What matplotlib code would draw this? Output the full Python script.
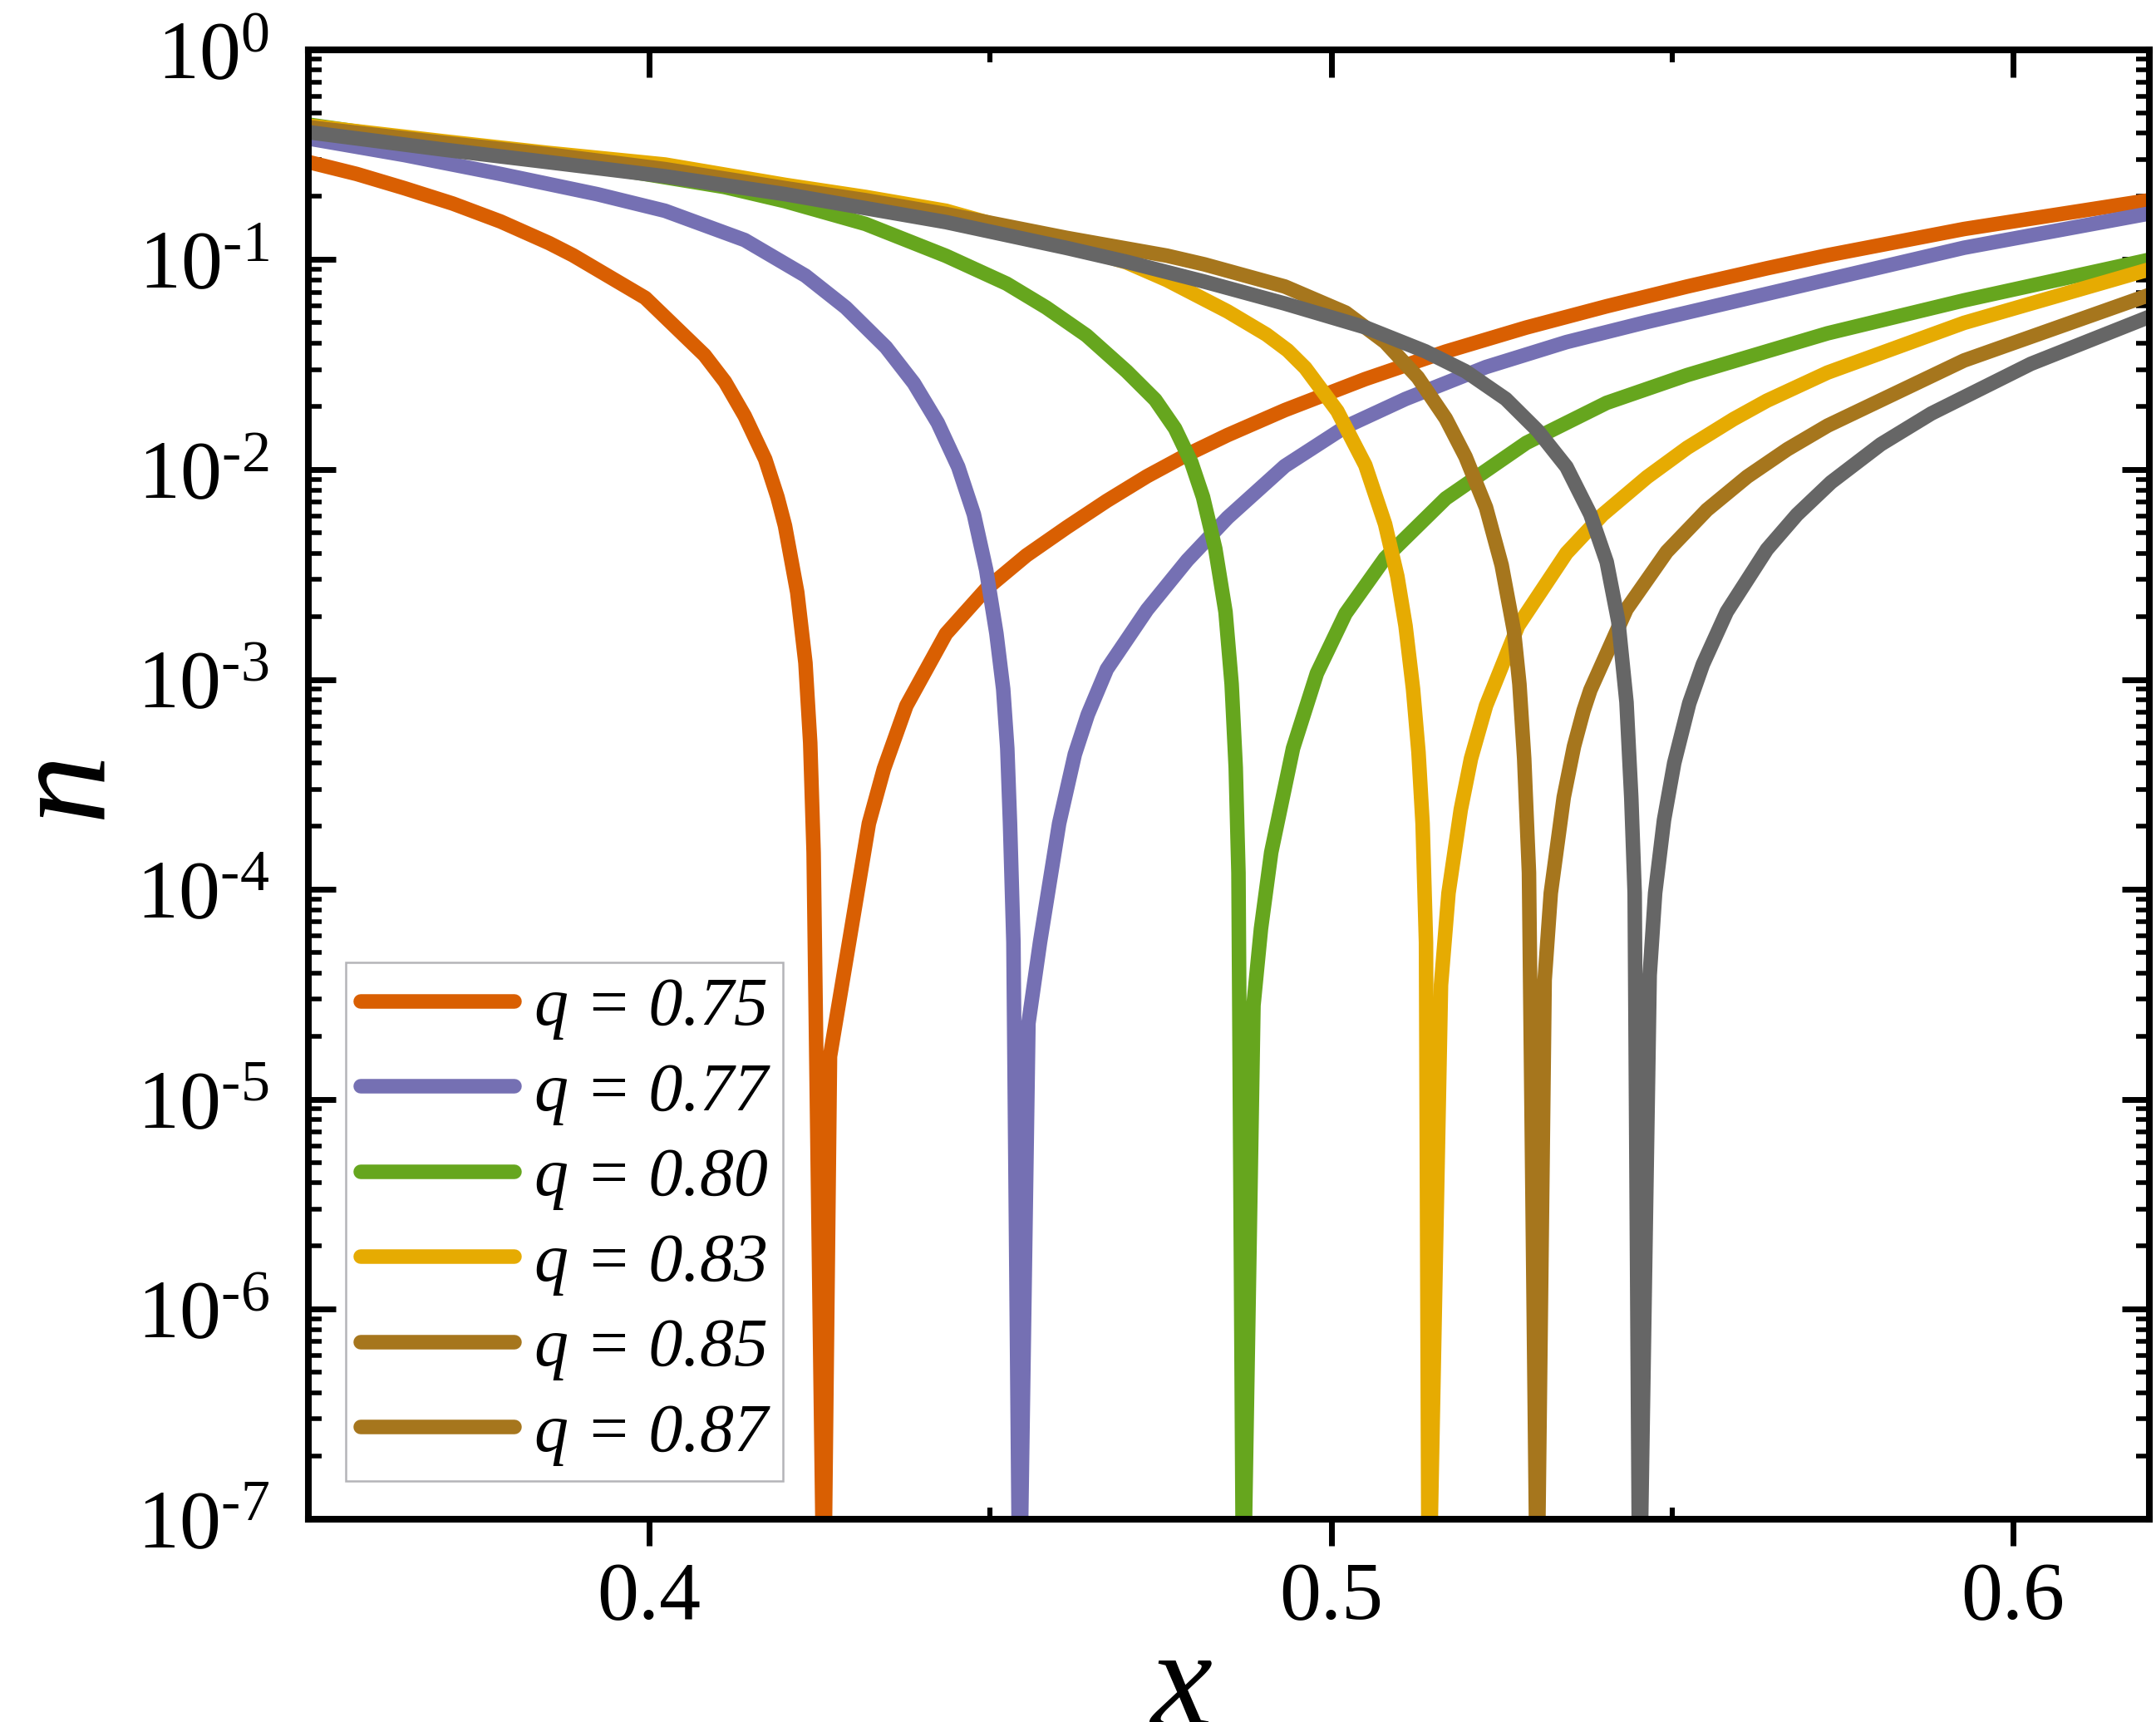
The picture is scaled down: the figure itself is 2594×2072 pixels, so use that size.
import numpy as np
import matplotlib
matplotlib.use('Agg')
import matplotlib.pyplot as plt
from matplotlib.lines import Line2D
from matplotlib.ticker import FixedLocator, LogLocator, FuncFormatter, NullFormatter

plt.rcParams['font.family'] = ['Liberation Serif', 'DejaVu Serif']
plt.rcParams['mathtext.fontset'] = 'custom'
plt.rcParams['mathtext.rm'] = 'Liberation Serif'
plt.rcParams['mathtext.it'] = 'Liberation Serif:italic'

# values: x and n for each q
x_075 = [0.3500, 0.3571, 0.3641, 0.3712, 0.3782, 0.3853, 0.3888, 0.3994, 0.4081,
         0.4111, 0.4140, 0.4170, 0.4188, 0.4199, 0.4217, 0.4229, 0.4236, 0.4241, 0.4256,
         0.4265, 0.4293, 0.4322, 0.4344, 0.4377, 0.4435, 0.4494, 0.4553, 0.4612, 0.4671,
         0.4730, 0.4789, 0.4848, 0.4932, 0.5050, 0.5168, 0.5286, 0.5404, 0.5522, 0.5639,
         0.5728, 0.5928, 0.6200]
n_075 = [0.292, 0.256, 0.219, 0.185, 0.152, 0.120, 0.105, 0.0658, 0.0351,
         0.0262, 0.0180, 0.0112, 0.0074, 0.0054, 0.0026, 0.0012, 5.0e-4, 1.5e-4, 3e-8,
         1.6e-5, 5.6e-5, 2.06e-4, 3.75e-4, 7.5e-4, 0.00165, 0.0027, 0.0039, 0.0053, 0.0071,
         0.0093, 0.0118, 0.0146, 0.0192, 0.0270, 0.0365, 0.0475, 0.0600, 0.0745, 0.0910,
         0.105, 0.140, 0.192]

x_077 = [0.3500, 0.3641, 0.3782, 0.3924, 0.4023, 0.4140, 0.4229, 0.4288, 0.4347, 0.4388,
         0.4423, 0.4453, 0.4476, 0.4494, 0.4509, 0.4519, 0.4525, 0.4529, 0.4534, 0.4543,
         0.4556, 0.4573, 0.4601, 0.4624, 0.4643, 0.4671, 0.4730, 0.4789, 0.4848, 0.4932,
         0.5021, 0.5109, 0.5227, 0.5345, 0.5463, 0.5580, 0.5728, 0.5928, 0.6200]
n_077 = [0.378, 0.315, 0.256, 0.205, 0.171, 0.124, 0.0839, 0.0592, 0.0383, 0.0258,
         0.0167, 0.0103, 0.00612, 0.00333, 0.00166, 9.0e-4, 4.7e-4, 2.06e-4, 5.6e-5, 3e-8,
         2.3e-5, 5.6e-5, 2.06e-4, 4.4e-4, 6.8e-4, 0.00112, 0.00215, 0.0037, 0.0059, 0.0104,
         0.0160, 0.0217, 0.0308, 0.0405, 0.0505, 0.0620, 0.0804, 0.114, 0.166]

x_080 = [0.3500, 0.3700, 0.3850, 0.4023, 0.4110, 0.4199, 0.4317, 0.4435, 0.4524, 0.4582,
         0.4641, 0.4700, 0.4742, 0.4771, 0.4795, 0.4812, 0.4830, 0.4845, 0.4854, 0.4860,
         0.4864, 0.4871, 0.4886, 0.4897, 0.4912, 0.4944, 0.4979, 0.5021, 0.5079, 0.5168,
         0.5286, 0.5404, 0.5522, 0.5639, 0.5728, 0.5928, 0.6200]
n_080 = [0.440, 0.355, 0.305, 0.247, 0.222, 0.190, 0.148, 0.1043, 0.0769, 0.0592,
         0.0436, 0.0294, 0.0215, 0.0157, 0.0108, 0.0074, 0.0042, 0.0021, 9.5e-4, 3.8e-4,
         1.2e-4, 3e-8, 2.8e-5, 6.5e-5, 1.5e-4, 4.7e-4, 0.00107, 0.00206, 0.00379, 0.00729,
         0.0134, 0.0208, 0.0282, 0.0366, 0.0446, 0.064, 0.100]

x_083 = [0.3500, 0.3700, 0.3850, 0.4023, 0.4200, 0.4317, 0.4435, 0.4530, 0.4612, 0.4700,
         0.4759, 0.4848, 0.4905, 0.4936, 0.4962, 0.5009, 0.5050, 0.5079, 0.5097, 0.5109,
         0.5120, 0.5128, 0.5134, 0.5139, 0.5143, 0.5161, 0.5172, 0.5190, 0.5205, 0.5227,
         0.5274, 0.5345, 0.5398, 0.5463, 0.5522, 0.5590, 0.5639, 0.5728, 0.5928, 0.6200]
n_083 = [0.435, 0.366, 0.323, 0.284, 0.227, 0.199, 0.171, 0.140, 0.118, 0.097,
         0.080, 0.0567, 0.0440, 0.0370, 0.0305, 0.0190, 0.0105, 0.0055, 0.0031, 0.0018,
         9.0e-4, 4.5e-4, 2.06e-4, 5.6e-5, 3e-8, 3.5e-5, 9.6e-5, 2.4e-4, 4.2e-4, 7.5e-4,
         0.0018, 0.0040, 0.0061, 0.0092, 0.0127, 0.0174, 0.0213, 0.0290, 0.050, 0.090]

x_085 = [0.3500, 0.3700, 0.3850, 0.4023, 0.4200, 0.4317, 0.4435, 0.4612, 0.4759, 0.4814,
         0.4932, 0.5021, 0.5079, 0.5127, 0.5168, 0.5197, 0.5227, 0.5250, 0.5268, 0.5276,
         0.5283, 0.5290, 0.5302, 0.5313, 0.5322, 0.5341, 0.5356, 0.5370, 0.5380, 0.5433,
         0.5492, 0.5551, 0.5610, 0.5669, 0.5728, 0.5928, 0.6200]
n_085 = [0.428, 0.360, 0.318, 0.270, 0.219, 0.192, 0.165, 0.127, 0.1045, 0.0950,
         0.0745, 0.0560, 0.0405, 0.0275, 0.0175, 0.0115, 0.0066, 0.0035, 0.0017, 9.5e-4,
         4.2e-4, 1.2e-4, 3e-8, 3.7e-5, 9.6e-5, 2.75e-4, 4.8e-4, 7.1e-4, 8.9e-4, 0.00216,
         0.00406, 0.00643, 0.00925, 0.0125, 0.0162, 0.0331, 0.068]

x_087 = [0.3500, 0.3700, 0.3850, 0.4023, 0.4200, 0.4317, 0.4435, 0.4612, 0.4700, 0.4814,
         0.4932, 0.5050, 0.5138, 0.5197, 0.5256, 0.5303, 0.5345, 0.5380, 0.5404, 0.5421,
         0.5433, 0.5440, 0.5445, 0.5452, 0.5467, 0.5475, 0.5488, 0.5503, 0.5525, 0.5545,
         0.5580, 0.5639, 0.5683, 0.5733, 0.5806, 0.5880, 0.6026, 0.6200]
n_087 = [0.405, 0.334, 0.292, 0.2496, 0.205, 0.176, 0.151, 0.1137, 0.0977, 0.0786,
         0.0618, 0.0476, 0.0366, 0.0294, 0.0217, 0.0153, 0.0103, 0.00612, 0.00363, 0.00189,
         7.8e-4, 2.75e-4, 9.6e-5, 3e-8, 3.9e-5, 9.6e-5, 2.14e-4, 4.0e-4, 7.7e-4, 0.00118,
         0.0021, 0.00417, 0.0061, 0.0087, 0.0132, 0.0185, 0.0319, 0.0535]

series_x = [x_075, x_077, x_080, x_083, x_085, x_087]
series_n = [n_075, n_077, n_080, n_083, n_085, n_087]
colors = ['#d95f02', '#7570b3', '#66a61e', '#e6ab02', '#a6761d', '#666666']
q_labels = ['q = 0.75', 'q = 0.77', 'q = 0.80', 'q = 0.83', 'q = 0.85', 'q = 0.87']
x_ticks = [0.4, 0.5, 0.6]
x_tick_labels = ['0.4', '0.5', '0.6']
x_minor = [0.45, 0.55]


def log_label(v, pos):
    e = int(round(np.log10(v)))
    if e == 0:
        return r'$10^{0}$'
    return '$10^{\u2010%d}$' % (-e)


fig = plt.figure(figsize=(12.97, 10.36), dpi=200)
ax = fig.add_axes([0.1430, 0.1178, 0.8540, 0.8533])

lines = []
for xs, ns, c in zip(series_x, series_n, colors):
    ln, = ax.plot(xs, ns, color=c, lw=6.3, solid_capstyle='round', solid_joinstyle='round')
    lines.append(ln)

ax.set_yscale('log')
ax.set_xlim(0.35, 0.62)
ax.set_ylim(1e-7, 1)

for s in ax.spines.values():
    s.set_linewidth(2.9)

ax.xaxis.set_major_locator(FixedLocator(x_ticks))
ax.set_xticklabels(x_tick_labels)
ax.xaxis.set_minor_locator(FixedLocator(x_minor))
ax.tick_params(axis='x', which='major', direction='out', length=11.5, width=2.5,
               labelsize=36, pad=7, top=False)
ax.tick_params(axis='x', which='minor', direction='in', length=5.2, width=2.2, top=False)

ax.yaxis.set_major_locator(LogLocator(base=10, numticks=20))
ax.yaxis.set_minor_locator(LogLocator(base=10, subs=np.arange(2, 10), numticks=20))
ax.yaxis.set_major_formatter(FuncFormatter(log_label))
ax.yaxis.set_minor_formatter(NullFormatter())
ax.tick_params(axis='y', which='major', direction='in', length=12, width=2.5,
               labelsize=36, pad=17, right=True)
ax.tick_params(axis='y', which='minor', direction='in', length=5.8, width=2.0, right=True)

top = ax.secondary_xaxis('top')
top.xaxis.set_major_locator(FixedLocator(x_ticks))
top.xaxis.set_minor_locator(FixedLocator(x_minor))
top.xaxis.set_major_formatter(NullFormatter())
top.tick_params(which='major', direction='in', length=12, width=2.5)
top.tick_params(which='minor', direction='in', length=5.4, width=2.2)
top.spines['top'].set_linewidth(2.9)

ax.set_xlabel('x', fontstyle='italic', fontsize=60, va='center')
ax.xaxis.set_label_coords(0.474, -0.117)
ax.set_ylabel('n', fontstyle='italic', fontsize=60, va='center')
ax.yaxis.set_label_coords(-0.131, 0.5)

handles = lines[:5] + [Line2D([], [], color=colors[4], lw=6.3, solid_capstyle='round')]
leg = ax.legend(handles, q_labels, loc='lower left', bbox_to_anchor=(0.0203, 0.026),
                borderaxespad=0, frameon=True, fancybox=False, edgecolor='#b4b4b8',
                framealpha=1, prop=dict(family='Liberation Serif', style='italic', size=29.5),
                handlelength=2.26, handletextpad=0.29, borderpad=0.22, labelspacing=0.33)
leg.get_frame().set_linewidth(0.9)

fig.savefig('out.png', dpi=200)
